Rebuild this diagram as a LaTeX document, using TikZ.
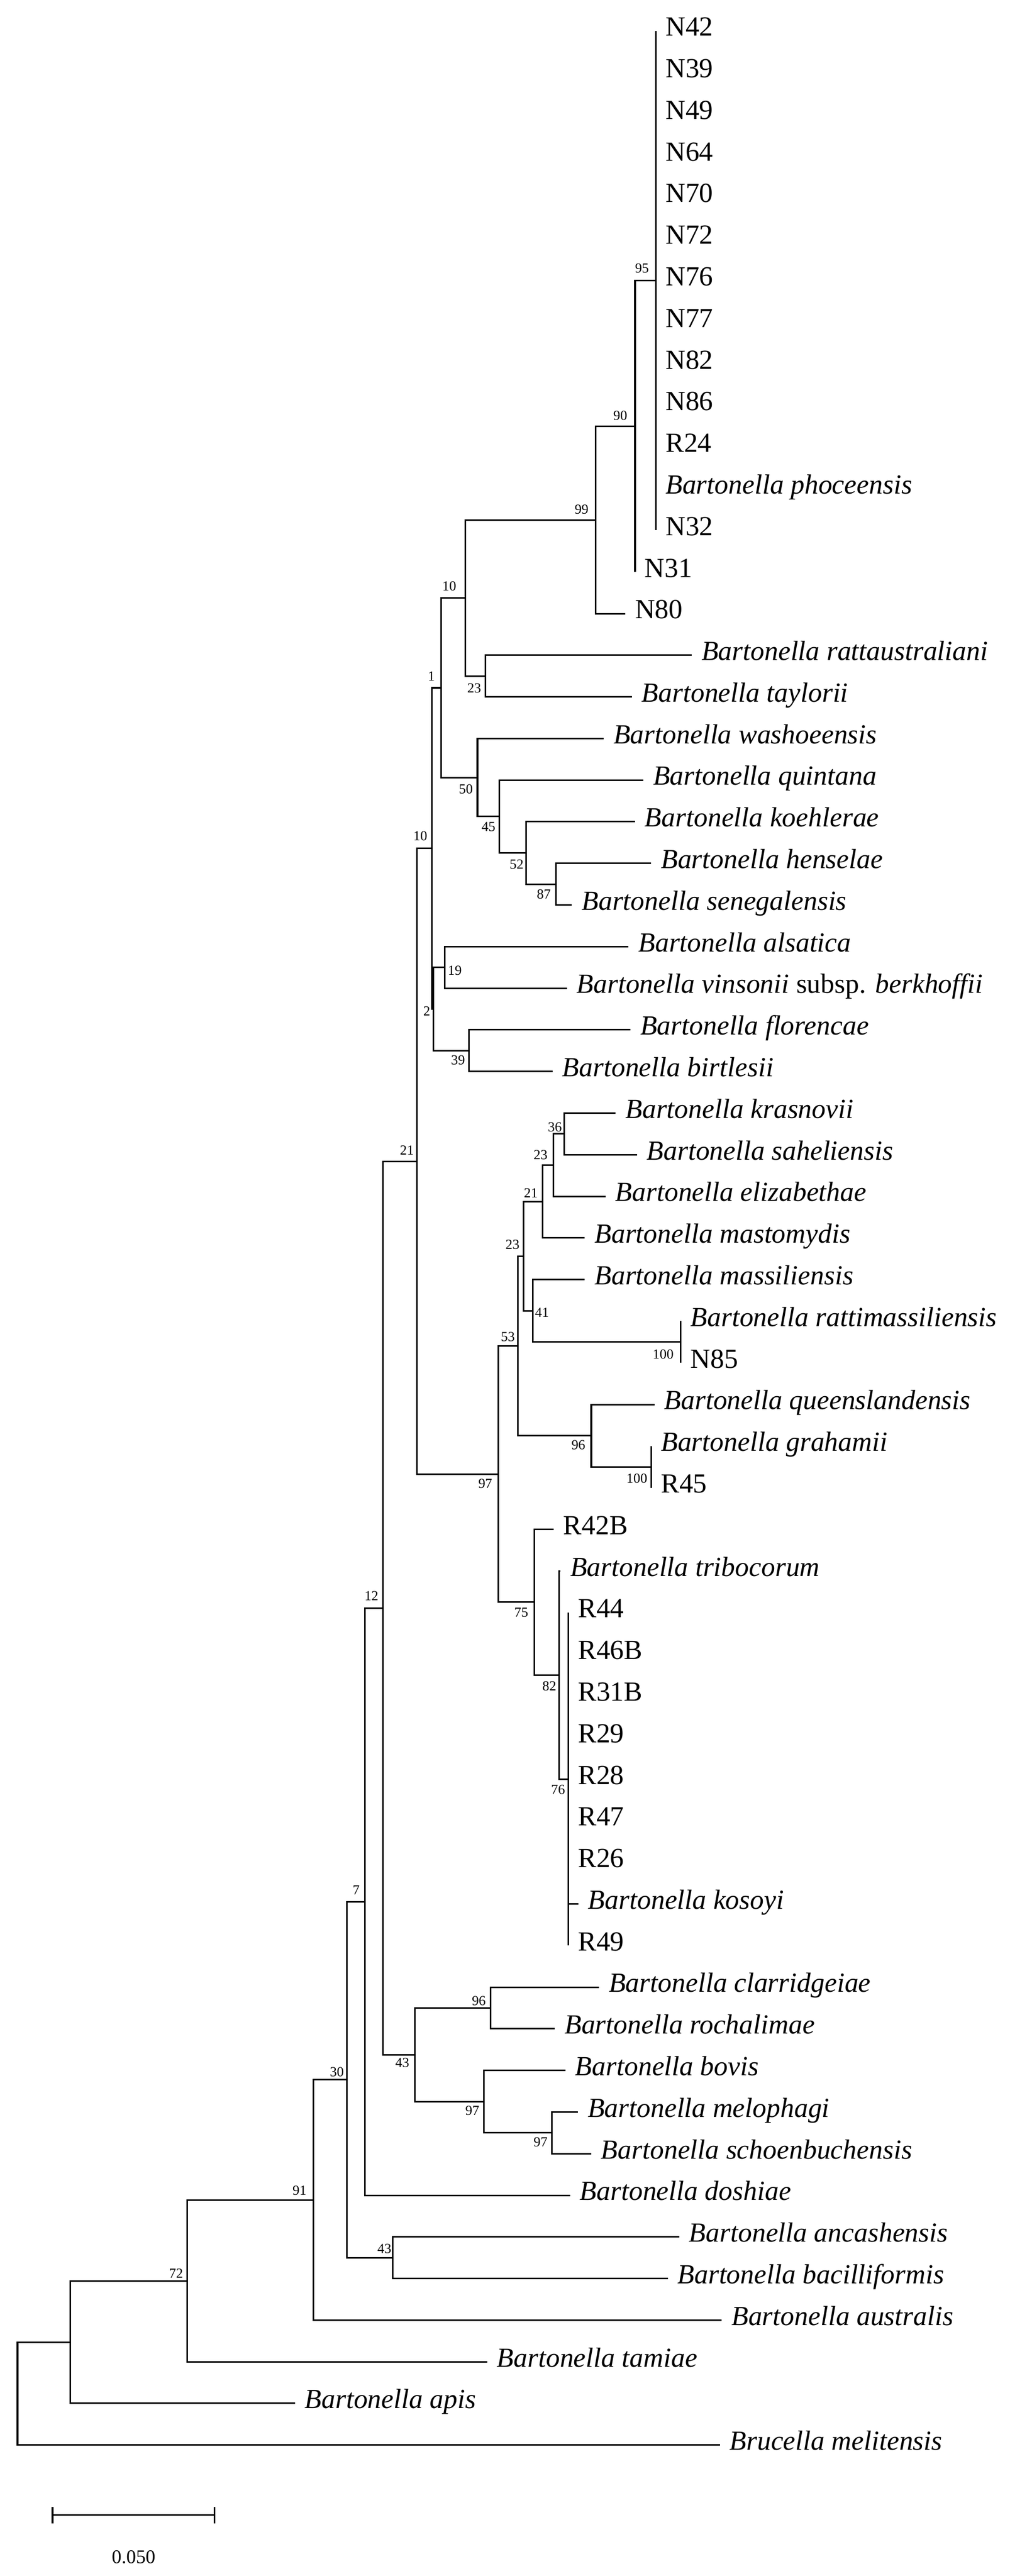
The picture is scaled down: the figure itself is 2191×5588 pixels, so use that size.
\documentclass[tikz,border=0pt]{standalone}
\usepackage{fontspec}
\setmainfont{Liberation Serif}
\begin{document}
\begin{tikzpicture}[x=0.25pt,y=-0.25pt,
  br/.style={line width=0.85pt, black},
  leaf/.style={anchor=base west, inner sep=0pt, xshift=5.1pt, yshift=-2.75pt, font=\fontsize{15}{18}\selectfont},
  sp/.style={leaf, font=\fontsize{15}{18}\selectfont\itshape},
  boot/.style={inner sep=0pt, font=\fontsize{7.5}{9}\selectfont},
  scalelbl/.style={inner sep=0pt, font=\fontsize{10.5}{12}\selectfont}]
\useasboundingbox (0,0) rectangle (2191,5588);
% ---------- tips ----------
\coordinate (tN42) at (1423,67.0);
\coordinate (tN39) at (1423,157.3);
\coordinate (tN49) at (1423,247.6);
\coordinate (tN64) at (1423,337.9);
\coordinate (tN70) at (1423,428.2);
\coordinate (tN72) at (1423,518.5);
\coordinate (tN76) at (1423,608.7);
\coordinate (tN77) at (1423,699.0);
\coordinate (tN82) at (1423,789.3);
\coordinate (tN86) at (1423,879.6);
\coordinate (tR24) at (1423,969.9);
\coordinate (tBpho) at (1423,1060.2);
\coordinate (tN32) at (1423,1150.5);
\coordinate (tN31) at (1378,1240.8);
\coordinate (tN80) at (1357,1331.1);
\coordinate (tBratt) at (1501,1421.4);
\coordinate (tBtay) at (1371,1511.6);
\coordinate (tBwas) at (1310,1601.9);
\coordinate (tBqui) at (1396,1692.2);
\coordinate (tBkoe) at (1378,1782.5);
\coordinate (tBhen) at (1413,1872.8);
\coordinate (tBsen) at (1241,1963.1);
\coordinate (tBals) at (1364,2053.4);
\coordinate (tBvin) at (1230,2143.7);
\coordinate (tBflo) at (1368,2234.0);
\coordinate (tBbir) at (1199,2324.3);
\coordinate (tBkra) at (1336,2414.5);
\coordinate (tBsah) at (1382,2504.8);
\coordinate (tBeli) at (1314,2595.1);
\coordinate (tBmas) at (1269,2685.4);
\coordinate (tBmss) at (1269,2775.7);
\coordinate (tBrtm) at (1477,2866.0);
\coordinate (tN85) at (1477,2956.3);
\coordinate (tBque) at (1420,3046.6);
\coordinate (tBgra) at (1413,3136.9);
\coordinate (tR45) at (1413,3227.2);
\coordinate (tR42B) at (1201,3317.4);
\coordinate (tBtri) at (1216,3407.7);
\coordinate (tR44) at (1233,3498.0);
\coordinate (tR46B) at (1233,3588.3);
\coordinate (tR31B) at (1233,3678.6);
\coordinate (tR29) at (1233,3768.9);
\coordinate (tR28) at (1233,3859.2);
\coordinate (tR47) at (1233,3949.5);
\coordinate (tR26) at (1233,4039.8);
\coordinate (tBkos) at (1255,4130.1);
\coordinate (tR49) at (1233,4220.3);
\coordinate (tBcla) at (1300,4310.6);
\coordinate (tBroc) at (1204,4400.9);
\coordinate (tBbov) at (1227,4491.2);
\coordinate (tBmel) at (1254,4581.5);
\coordinate (tBsch) at (1283,4671.8);
\coordinate (tBdos) at (1237,4762.1);
\coordinate (tBanc) at (1474,4852.4);
\coordinate (tBbac) at (1449,4942.7);
\coordinate (tBaus) at (1566,5033.0);
\coordinate (tBtam) at (1057,5123.2);
\coordinate (tBapi) at (640,5213.5);
\coordinate (tBru) at (1562,5303.8);
% ---------- internal nodes ----------
\coordinate (n95) at (1423,608.7);
\coordinate (n90) at (1378,924.8);
\coordinate (n99) at (1293,1128.0);
\coordinate (n23u) at (1053,1466.5);
\coordinate (n10u) at (1010,1297.3);
\coordinate (n87) at (1206,1918.0);
\coordinate (n52) at (1142,1850.3);
\coordinate (n45) at (1084,1771.2);
\coordinate (n50) at (1036,1686.6);
\coordinate (n1) at (957,1492.0);
\coordinate (n19) at (965,2098.6);
\coordinate (n39) at (1018,2279.2);
\coordinate (n2) at (940,2188.9);
\coordinate (n10l) at (937,1840.5);
\coordinate (n36) at (1224,2459.7);
\coordinate (n23c) at (1201,2527.4);
\coordinate (n21b) at (1177,2606.4);
\coordinate (n100a) at (1477,2911.2);
\coordinate (n41) at (1156,2843.5);
\coordinate (n23b) at (1136,2725.0);
\coordinate (n100b) at (1413,3182.1);
\coordinate (n96a) at (1283,3114.4);
\coordinate (n53) at (1124,2919.7);
\coordinate (n76) at (1233,3859.2);
\coordinate (n82) at (1213,3633.5);
\coordinate (n75) at (1159,3475.5);
\coordinate (n97a) at (1081,3197.6);
\coordinate (n21) at (905,2519.1);
\coordinate (n96b) at (1064,4355.8);
\coordinate (n97c) at (1197,4626.7);
\coordinate (n97b) at (1050,4559.0);
\coordinate (n43a) at (900,4457.4);
\coordinate (n12) at (831,3488.3);
\coordinate (n7) at (792,4125.2);
\coordinate (n43b) at (852,4897.6);
\coordinate (n30) at (753,4511.4);
\coordinate (n91) at (680,4772.2);
\coordinate (n72) at (406,4947.7);
\coordinate (nA) at (153,5080.6);
\coordinate (root) at (38,5192.2);
% ---------- branches ----------
\foreach \c in {tN42,tN39,tN49,tN64,tN70,tN72,tN76,tN77,tN82,tN86,tR24,tBpho,tN32}
  \draw[br] (n95) |- (\c);
\draw[br] (n90) |- (n95); \draw[br] (n90) |- (tN31);
\draw[br] (n99) |- (n90); \draw[br] (n99) |- (tN80);
\draw[br] (n23u) |- (tBratt); \draw[br] (n23u) |- (tBtay);
\draw[br] (n10u) |- (n99); \draw[br] (n10u) |- (n23u);
\draw[br] (n87) |- (tBhen); \draw[br] (n87) |- (tBsen);
\draw[br] (n52) |- (tBkoe); \draw[br] (n52) |- (n87);
\draw[br] (n45) |- (tBqui); \draw[br] (n45) |- (n52);
\draw[br] (n50) |- (tBwas); \draw[br] (n50) |- (n45);
\draw[br] (n1) |- (n10u); \draw[br] (n1) |- (n50);
\draw[br] (n19) |- (tBals); \draw[br] (n19) |- (tBvin);
\draw[br] (n39) |- (tBflo); \draw[br] (n39) |- (tBbir);
\draw[br] (n2) |- (n19); \draw[br] (n2) |- (n39);
\draw[br] (n10l) |- (n1); \draw[br] (n10l) |- (n2);
\draw[br] (n36) |- (tBkra); \draw[br] (n36) |- (tBsah);
\draw[br] (n23c) |- (n36); \draw[br] (n23c) |- (tBeli);
\draw[br] (n21b) |- (n23c); \draw[br] (n21b) |- (tBmas);
\draw[br] (n100a) |- (tBrtm); \draw[br] (n100a) |- (tN85);
\draw[br] (n41) |- (tBmss); \draw[br] (n41) |- (n100a);
\draw[br] (n23b) |- (n21b); \draw[br] (n23b) |- (n41);
\draw[br] (n100b) |- (tBgra); \draw[br] (n100b) |- (tR45);
\draw[br] (n96a) |- (tBque); \draw[br] (n96a) |- (n100b);
\draw[br] (n53) |- (n23b); \draw[br] (n53) |- (n96a);
\foreach \c in {tR44,tR46B,tR31B,tR29,tR28,tR47,tR26,tBkos,tR49}
  \draw[br] (n76) |- (\c);
\draw[br] (n82) |- (tBtri); \draw[br] (n82) |- (n76);
\draw[br] (n75) |- (tR42B); \draw[br] (n75) |- (n82);
\draw[br] (n97a) |- (n53); \draw[br] (n97a) |- (n75);
\draw[br] (n21) |- (n10l); \draw[br] (n21) |- (n97a);
\draw[br] (n96b) |- (tBcla); \draw[br] (n96b) |- (tBroc);
\draw[br] (n97c) |- (tBmel); \draw[br] (n97c) |- (tBsch);
\draw[br] (n97b) |- (tBbov); \draw[br] (n97b) |- (n97c);
\draw[br] (n43a) |- (n96b); \draw[br] (n43a) |- (n97b);
\draw[br] (n12) |- (n21); \draw[br] (n12) |- (n43a);
\draw[br] (n7) |- (n12); \draw[br] (n7) |- (tBdos);
\draw[br] (n43b) |- (tBanc); \draw[br] (n43b) |- (tBbac);
\draw[br] (n30) |- (n7); \draw[br] (n30) |- (n43b);
\draw[br] (n91) |- (n30); \draw[br] (n91) |- (tBaus);
\draw[br] (n72) |- (n91); \draw[br] (n72) |- (tBtam);
\draw[br] (nA) |- (n72); \draw[br] (nA) |- (tBapi);
\draw[br] (root) |- (nA); \draw[br] (root) |- (tBru);
% ---------- leaf labels ----------
\node[leaf] (lN42) at (tN42) {N42};
\node[leaf] (lN39) at (tN39) {N39};
\node[leaf] (lN49) at (tN49) {N49};
\node[leaf] (lN64) at (tN64) {N64};
\node[leaf] (lN70) at (tN70) {N70};
\node[leaf] (lN72) at (tN72) {N72};
\node[leaf] (lN76) at (tN76) {N76};
\node[leaf] (lN77) at (tN77) {N77};
\node[leaf] (lN82) at (tN82) {N82};
\node[leaf] (lN86) at (tN86) {N86};
\node[leaf] (lR24) at (tR24) {R24};
\node[sp] (lBpho) at (tBpho) {Bartonella phoceensis};
\node[leaf] (lN32) at (tN32) {N32};
\node[leaf] (lN31) at (tN31) {N31};
\node[leaf] (lN80) at (tN80) {N80};
\node[sp] (lBratt) at (tBratt) {Bartonella rattaustraliani};
\node[sp] (lBtay) at (tBtay) {Bartonella taylorii};
\node[sp] (lBwas) at (tBwas) {Bartonella washoeensis};
\node[sp] (lBqui) at (tBqui) {Bartonella quintana};
\node[sp] (lBkoe) at (tBkoe) {Bartonella koehlerae};
\node[sp] (lBhen) at (tBhen) {Bartonella henselae};
\node[sp] (lBsen) at (tBsen) {Bartonella senegalensis};
\node[sp] (lBals) at (tBals) {Bartonella alsatica};
\node[sp] (lBvin) at (tBvin) {Bartonella vinsonii \upshape subsp. \itshape berkhoffii};
\node[sp] (lBflo) at (tBflo) {Bartonella florencae};
\node[sp] (lBbir) at (tBbir) {Bartonella birtlesii};
\node[sp] (lBkra) at (tBkra) {Bartonella krasnovii};
\node[sp] (lBsah) at (tBsah) {Bartonella saheliensis};
\node[sp] (lBeli) at (tBeli) {Bartonella elizabethae};
\node[sp] (lBmas) at (tBmas) {Bartonella mastomydis};
\node[sp] (lBmss) at (tBmss) {Bartonella massiliensis};
\node[sp] (lBrtm) at (tBrtm) {Bartonella rattimassiliensis};
\node[leaf] (lN85) at (tN85) {N85};
\node[sp] (lBque) at (tBque) {Bartonella queenslandensis};
\node[sp] (lBgra) at (tBgra) {Bartonella grahamii};
\node[leaf] (lR45) at (tR45) {R45};
\node[leaf] (lR42B) at (tR42B) {R42B};
\node[sp] (lBtri) at (tBtri) {Bartonella tribocorum};
\node[leaf] (lR44) at (tR44) {R44};
\node[leaf] (lR46B) at (tR46B) {R46B};
\node[leaf] (lR31B) at (tR31B) {R31B};
\node[leaf] (lR29) at (tR29) {R29};
\node[leaf] (lR28) at (tR28) {R28};
\node[leaf] (lR47) at (tR47) {R47};
\node[leaf] (lR26) at (tR26) {R26};
\node[sp] (lBkos) at (tBkos) {Bartonella kosoyi};
\node[leaf] (lR49) at (tR49) {R49};
\node[sp] (lBcla) at (tBcla) {Bartonella clarridgeiae};
\node[sp] (lBroc) at (tBroc) {Bartonella rochalimae};
\node[sp] (lBbov) at (tBbov) {Bartonella bovis};
\node[sp] (lBmel) at (tBmel) {Bartonella melophagi};
\node[sp] (lBsch) at (tBsch) {Bartonella schoenbuchensis};
\node[sp] (lBdos) at (tBdos) {Bartonella doshiae};
\node[sp] (lBanc) at (tBanc) {Bartonella ancashensis};
\node[sp] (lBbac) at (tBbac) {Bartonella bacilliformis};
\node[sp] (lBaus) at (tBaus) {Bartonella australis};
\node[sp] (lBtam) at (tBtam) {Bartonella tamiae};
\node[sp] (lBapi) at (tBapi) {Bartonella apis};
\node[sp] (lBru) at (tBru) {Brucella melitensis};
% ---------- bootstrap values ----------
\node[boot] (b95) at (1393,582) {95};
\node[boot] (b90) at (1346,902) {90};
\node[boot] (b99) at (1262,1105) {99};
\node[boot] (b10u) at (975,1272) {10};
\node[boot] (b1) at (936,1467) {1};
\node[boot] (b23u) at (1029,1493) {23};
\node[boot] (b50) at (1011,1712) {50};
\node[boot] (b45) at (1060,1793) {45};
\node[boot] (b10l) at (912,1813) {10};
\node[boot] (b52) at (1121,1875) {52};
\node[boot] (b87) at (1180,1940) {87};
\node[boot] (b19) at (987,2105) {19};
\node[boot] (b2) at (926,2193) {2};
\node[boot] (b39) at (994,2300) {39};
\node[boot] (b21) at (883,2495) {21};
\node[boot] (b36) at (1204,2445) {36};
\node[boot] (b23c) at (1173,2505) {23};
\node[boot] (b21b) at (1152,2588) {21};
\node[boot] (b23b) at (1112,2700) {23};
\node[boot] (b41) at (1176,2847) {41};
\node[boot] (b53) at (1102,2900) {53};
\node[boot] (b100a) at (1439,2938) {100};
\node[boot] (b96a) at (1255,3135) {96};
\node[boot] (b100b) at (1382,3207) {100};
\node[boot] (b97a) at (1053,3218) {97};
\node[boot] (b12) at (806,3462) {12};
\node[boot] (b75) at (1131,3498) {75};
\node[boot] (b82) at (1192,3658) {82};
\node[boot] (b76) at (1211,3882) {76};
\node[boot] (b7) at (773,4100) {7};
\node[boot] (b96b) at (1039,4340) {96};
\node[boot] (b43a) at (873,4475) {43};
\node[boot] (b30) at (731,4495) {30};
\node[boot] (b97b) at (1025,4578) {97};
\node[boot] (b97c) at (1173,4647) {97};
\node[boot] (b91) at (650,4752) {91};
\node[boot] (b43b) at (834,4878) {43};
\node[boot] (b72) at (382,4932) {72};
% ---------- scale bar ----------
\coordinate (sL) at (114,5456);
\coordinate (sR) at (465,5456);
\draw[br] (sL) -- (sR);
\draw[br] ([yshift=4.5pt]sL) -- ([yshift=-4.5pt]sL);
\draw[br] ([yshift=4.5pt]sR) -- ([yshift=-4.5pt]sR);
\node[scalelbl] (slbl) at (290,5547) {0.050};
\end{tikzpicture}
\end{document}
